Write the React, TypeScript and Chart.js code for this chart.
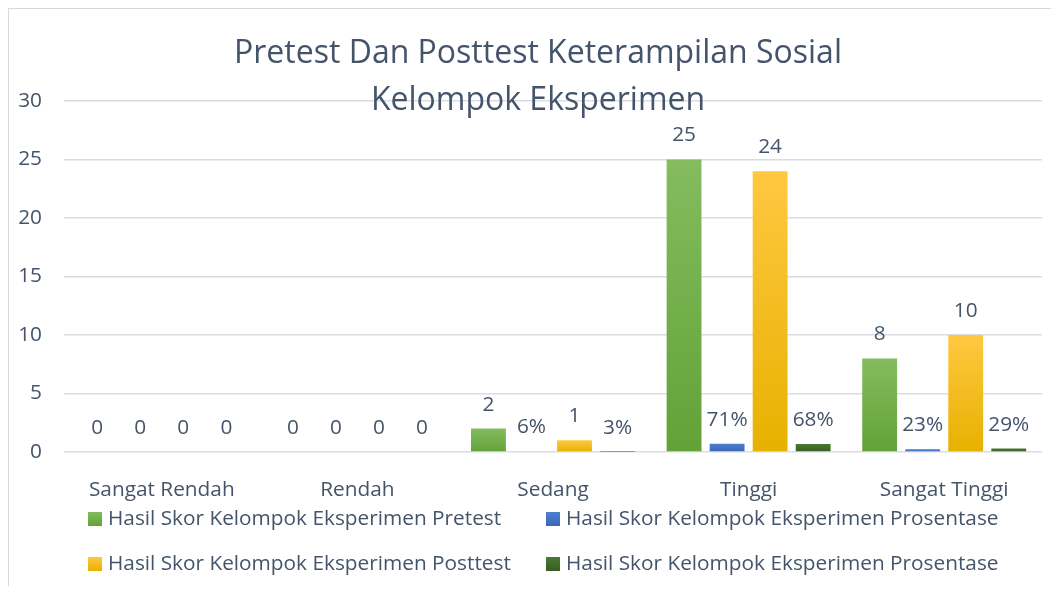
import React, { useEffect, useRef } from 'react';
import { Chart, registerables } from 'chart.js';

Chart.register(...registerables);

const categories = ['Sangat Rendah', 'Rendah', 'Sedang', 'Tinggi', 'Sangat Tinggi'];
const pretest = [0, 0, 2, 25, 8];
const prosentasePre = [0, 0, 0.06, 0.71, 0.23];
const posttest = [0, 0, 1, 24, 10];
const prosentasePost = [0, 0, 0.03, 0.68, 0.29];
const seriesNames = [
  'Hasil Skor Kelompok Eksperimen Pretest',
  'Hasil Skor Kelompok Eksperimen Prosentase',
  'Hasil Skor Kelompok Eksperimen Posttest',
  'Hasil Skor Kelompok Eksperimen Prosentase',
];
const titleLines = ['Pretest Dan Posttest Keterampilan Sosial', 'Kelompok Eksperimen'];
const yMax = 30;
const yStep = 5;

const FONT = '"Open Sans", "DejaVu Sans", sans-serif';
const TEXT = '#44546A';
const FS = 20.8;

const gradients = [
  ['#84BC5E', '#62A238', '#70AD47'],
  ['#4F7FD0', '#3B66B5', '#4472C4'],
  ['#FFC841', '#E7B100', '#FFC000'],
  ['#4A7A32', '#375E22', '#3F6B2A'],
];

function makeBg(idx: number) {
  const [top, bottom, solid] = gradients[idx];
  return (c: any) => {
    if (c.type !== 'data') return solid;
    const chart = c.chart;
    const ys = chart.scales?.y;
    if (!ys) return solid;
    const yTop = ys.getPixelForValue(c.raw);
    const yBase = ys.getPixelForValue(0);
    if (!isFinite(yTop) || !isFinite(yBase) || yBase - yTop < 1) return solid;
    const g = chart.ctx.createLinearGradient(0, yTop, 0, yBase);
    g.addColorStop(0, top);
    g.addColorStop(1, bottom);
    return g;
  };
}

const labelPlugin = {
  id: 'valueLabels',
  afterDatasetsDraw(chart: any) {
    const ctx = chart.ctx;
    ctx.save();
    ctx.font = `${FS}px ${FONT}`;
    ctx.fillStyle = TEXT;
    ctx.textAlign = 'center';
    ctx.textBaseline = 'middle';
    chart.data.datasets.forEach((ds: any, i: number) => {
      const meta = chart.getDatasetMeta(i);
      meta.data.forEach((el: any, j: number) => {
        const v = ds.data[j];
        const txt = ds.isPct && v !== 0 ? Math.round(v * 100) + '%' : String(v);
        ctx.fillText(txt, el.x, el.y - 24);
      });
    });
    ctx.restore();
  },
};

const titleLegendPlugin = {
  id: 'overlayTitleLegend',
  afterDraw(chart: any) {
    const ctx = chart.ctx;
    ctx.save();
    ctx.font = `32px ${FONT}`;
    ctx.fillStyle = TEXT;
    ctx.textAlign = 'center';
    ctx.textBaseline = 'middle';
    const cx = chart.width / 2 + 8;
    ctx.fillText(titleLines[0], cx, 45);
    ctx.fillText(titleLines[1], cx, 92);

    // legend: two columns, two rows
    ctx.font = `${FS}px ${FONT}`;
    ctx.textAlign = 'left';
    const colX = [79, 537];
    const rowY = [510, 555];
    [0, 1, 2, 3].forEach((di, k) => {
      const x = colX[k % 2];
      const y = rowY[Math.floor(k / 2)];
      const [top, bottom] = gradients[di];
      const g = ctx.createLinearGradient(0, y - 7, 0, y + 7);
      g.addColorStop(0, top);
      g.addColorStop(1, bottom);
      ctx.fillStyle = g;
      ctx.fillRect(x, y - 7, 14, 14);
      ctx.fillStyle = TEXT;
      ctx.fillText(chart.data.datasets[di].label, x + 20, y);
    });
    ctx.restore();
  },
};

export default function App() {
  const ref = useRef<HTMLCanvasElement>(null);
  useEffect(() => {
    if (!ref.current) return;
    const chart = new Chart(ref.current, {
      type: 'bar',
      data: {
        labels: categories,
        datasets: [
          { label: seriesNames[0], data: pretest, backgroundColor: makeBg(0), isPct: false } as any,
          { label: seriesNames[1], data: prosentasePre, backgroundColor: makeBg(1), isPct: true } as any,
          { label: seriesNames[2], data: posttest, backgroundColor: makeBg(2), isPct: false } as any,
          { label: seriesNames[3], data: prosentasePost, backgroundColor: makeBg(3), isPct: true } as any,
        ],
      },
      options: {
        animation: false,
        responsive: true,
        maintainAspectRatio: false,
        layout: { padding: { top: 92, left: 0, right: 9, bottom: 70 } },
        datasets: { bar: { categoryPercentage: 0.88, barPercentage: 0.81 } },
        scales: {
          x: {
            grid: { display: false },
            border: { display: false },
            ticks: { color: TEXT, font: { family: FONT, size: FS }, padding: 18 },
            afterFit: (s: any) => { s.height = 64; },
          },
          y: {
            min: 0,
            max: yMax,
            grid: { color: '#D9DDE3', drawTicks: false, lineWidth: 1.5 },
            border: { display: false },
            ticks: { stepSize: yStep, color: TEXT, font: { family: FONT, size: FS }, padding: 22 },
            afterFit: (s: any) => { s.width = 55; },
          },
        },
        plugins: {
          title: { display: false },
          tooltip: { enabled: false },
          legend: { display: false },
        },
      },
      plugins: [labelPlugin, titleLegendPlugin],
    });
    return () => chart.destroy();
  }, []);
  return (
    <div style={{ position: 'relative', height: 577, borderTop: '1px solid #D9D9D9', borderLeft: '1px solid #D9D9D9' }}>
      <canvas ref={ref} />
    </div>
  );
}
